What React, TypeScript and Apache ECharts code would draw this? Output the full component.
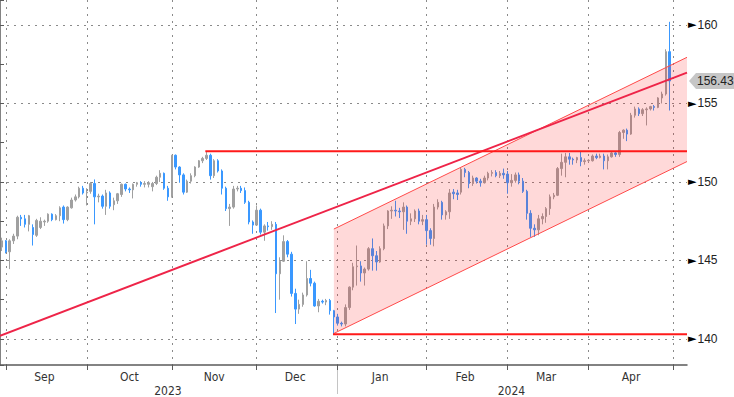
import React, { useEffect, useRef } from 'react';
import * as echarts from 'echarts';

// ---------- data ----------
const START = '2023-08-30';
const END = '2024-05-03';
const monthNames = ['Sep', 'Oct', 'Nov', 'Dec', 'Jan', 'Feb', 'Mar', 'Apr'];

// daily candles: [open, close, low, high]
const aug23 = [
  [145.85, 146.25, 145.6, 146.45], [146.25, 145.55, 145.45, 146.3],
];
const sep23 = [
  [145.55, 146.25, 144.45, 146.35], [146.25, 146.55, 146.05, 146.7], [146.55, 147.75, 146.35, 147.85],
  [147.75, 147.65, 147.2, 147.9], [147.65, 147.3, 147.1, 147.9], [147.3, 147.85, 146.85, 147.9],
  [147.1, 146.65, 145.95, 147.3], [146.6, 147.55, 146.5, 147.65], [147.1, 147.5, 147.0, 147.75],
  [147.45, 147.5, 147.2, 147.6], [147.5, 147.95, 147.4, 148.0], [147.95, 147.6, 147.5, 148.0],
  [147.6, 147.85, 147.55, 147.95], [147.85, 148.35, 147.5, 148.45], [148.4, 147.6, 147.35, 148.5],
  [147.6, 148.4, 147.5, 148.45], [148.35, 148.85, 148.3, 149.0], [148.85, 149.05, 148.75, 149.2],
  [149.05, 149.6, 148.95, 149.7], [149.6, 149.3, 149.2, 149.75], [149.3, 149.35, 148.5, 149.6],
];
const oct23 = [
  [149.4, 149.9, 149.25, 150.0], [149.9, 149.05, 147.3, 150.16], [149.05, 149.1, 148.7, 149.25],
  [149.1, 148.45, 148.3, 149.2], [148.45, 149.3, 147.9, 149.5], [149.3, 148.45, 148.3, 149.4],
  [148.55, 148.8, 148.2, 149.0], [148.8, 149.25, 148.6, 149.3], [149.2, 149.85, 149.05, 149.9],
  [149.85, 149.55, 149.4, 149.9], [149.55, 149.5, 149.3, 149.65], [149.5, 149.85, 148.95, 149.9],
  [149.85, 149.95, 149.7, 150.0], [149.95, 149.85, 149.7, 150.05], [149.85, 149.9, 149.65, 150.05],
  [149.85, 149.95, 149.65, 150.05], [149.7, 149.9, 149.4, 150.0], [149.9, 150.3, 149.8, 150.4],
  [150.3, 150.55, 150.0, 150.75], [150.55, 149.6, 149.5, 150.6], [149.6, 149.05, 148.8, 149.75],
  [149.1, 151.7, 149.0, 151.72],
];
const nov23 = [
  [151.7, 150.95, 150.8, 151.75], [150.95, 150.45, 149.95, 151.0], [150.45, 149.35, 149.2, 150.55],
  [149.35, 150.05, 149.3, 150.15], [150.05, 150.4, 149.9, 150.55], [150.4, 150.95, 150.3, 151.0],
  [150.95, 151.35, 150.9, 151.4], [151.35, 151.5, 151.2, 151.6], [151.5, 151.7, 151.4, 151.92],
  [151.7, 150.4, 150.15, 151.8], [150.4, 151.35, 150.25, 151.45], [151.35, 150.7, 150.6, 151.45],
  [150.7, 149.6, 149.2, 150.8], [149.6, 148.3, 148.15, 149.7], [148.3, 148.4, 147.2, 148.6],
  [148.4, 149.55, 148.3, 149.75], [149.55, 149.6, 149.4, 149.75], [149.6, 149.45, 149.3, 149.75],
  [149.45, 148.7, 148.6, 149.65], [148.7, 147.45, 147.3, 148.8], [147.45, 147.25, 146.7, 147.55],
  [147.25, 148.2, 147.2, 148.5],
];
const dec23 = [
  [148.2, 146.8, 146.65, 148.3], [146.8, 147.2, 146.25, 147.3], [147.2, 147.15, 146.9, 147.45],
  [147.15, 147.3, 146.95, 147.5], [147.3, 144.15, 141.65, 147.45], [144.15, 144.95, 142.5, 145.2],
  [144.95, 146.2, 144.9, 146.6], [146.2, 145.4, 145.2, 146.3], [145.4, 142.9, 142.7, 145.55],
  [142.9, 141.9, 140.95, 143.2], [141.9, 142.2, 141.6, 142.5], [142.2, 142.8, 142.05, 142.95],
  [142.8, 143.85, 142.7, 144.95], [143.85, 143.55, 143.35, 144.4], [143.55, 142.1, 142.05, 143.65],
  [142.1, 142.4, 141.7, 142.55], [142.4, 142.35, 142.25, 142.5], [142.35, 142.45, 142.15, 142.55],
  [142.45, 141.8, 141.55, 142.55], [141.8, 141.4, 140.25, 141.85], [141.4, 141.0, 140.85, 141.6],
];
const jan24 = [
  [141.0, 140.95, 140.8, 141.1], [140.95, 142.0, 140.8, 142.2], [142.0, 143.3, 141.85, 143.35],
  [143.3, 144.6, 143.1, 144.85], [144.6, 144.65, 143.4, 145.95], [144.65, 144.2, 143.65, 144.95],
  [144.2, 144.45, 143.4, 144.55], [144.45, 145.75, 144.35, 145.85], [145.75, 145.3, 144.35, 146.4],
  [145.3, 144.9, 144.35, 145.6], [144.9, 145.75, 144.85, 145.9], [145.75, 147.2, 145.65, 147.35],
  [147.2, 148.15, 147.0, 148.2], [148.15, 148.2, 147.65, 148.45], [148.2, 148.15, 147.8, 148.8],
  [148.15, 148.1, 147.7, 148.35], [148.1, 148.4, 146.95, 148.7], [148.4, 147.5, 146.7, 148.5],
  [147.5, 147.65, 147.25, 148.0], [147.65, 148.15, 147.45, 148.25], [148.15, 147.5, 147.3, 148.3],
  [147.5, 147.6, 147.25, 147.9], [147.6, 146.9, 146.0, 147.9],
];
const feb24 = [
  [146.9, 146.4, 146.0, 147.05], [146.4, 148.4, 145.9, 148.6], [148.4, 148.7, 148.25, 148.9],
  [148.7, 147.9, 147.6, 148.8], [147.9, 148.1, 147.6, 148.2], [148.1, 149.3, 147.65, 149.55],
  [149.35, 149.25, 148.9, 149.55], [149.3, 149.2, 148.85, 149.5], [149.35, 150.8, 149.2, 150.9],
  [150.8, 150.6, 150.3, 150.9], [150.6, 149.9, 149.6, 150.7], [149.9, 150.25, 149.75, 150.4],
  [150.25, 150.05, 149.9, 150.3], [150.05, 149.95, 149.7, 150.2], [149.95, 150.25, 149.9, 150.4],
  [150.25, 150.55, 150.1, 150.65], [150.55, 150.6, 150.35, 150.75], [150.6, 150.4, 150.3, 150.75],
  [150.4, 150.55, 150.25, 150.7], [150.55, 150.45, 150.2, 150.85], [150.5, 149.95, 149.25, 150.7],
];
const mar24 = [
  [149.95, 150.1, 149.7, 150.5], [150.1, 150.45, 149.95, 150.6], [150.45, 150.05, 149.85, 150.6],
  [150.05, 149.4, 149.3, 150.25], [149.4, 148.0, 147.6, 149.5], [148.0, 147.05, 146.5, 148.2],
  [147.05, 146.95, 146.5, 147.3], [146.95, 147.65, 146.6, 147.9], [147.65, 147.8, 147.3, 148.0],
  [147.8, 148.3, 147.4, 148.4], [148.3, 149.05, 147.9, 149.2], [149.05, 149.15, 148.9, 149.3],
  [149.15, 150.85, 149.1, 150.95], [150.85, 151.25, 150.4, 151.8], [151.25, 151.6, 150.3, 151.85],
  [151.6, 151.45, 151.1, 151.85], [151.45, 151.4, 151.1, 151.55], [151.4, 151.55, 151.2, 151.6],
  [151.55, 151.3, 151.0, 151.95], [151.3, 151.35, 151.1, 151.5], [151.35, 151.38, 151.25, 151.45],
];
const apr24 = [
  [151.35, 151.65, 151.3, 151.75], [151.65, 151.55, 151.45, 151.8], [151.55, 151.65, 151.5, 151.8],
  [151.65, 151.35, 150.8, 151.8], [151.35, 151.6, 150.8, 151.75], [151.6, 151.85, 151.55, 151.95],
  [151.85, 151.75, 151.6, 151.9], [151.75, 153.15, 151.6, 153.25], [153.15, 153.3, 152.75, 153.35],
  [153.3, 153.05, 152.6, 153.4], [153.05, 154.25, 153.0, 154.4], [154.25, 154.65, 154.1, 154.8],
  [154.65, 154.35, 154.2, 154.75], [154.35, 154.6, 154.2, 154.7], [154.6, 154.65, 153.6, 154.75],
  [154.65, 154.8, 154.55, 154.85], [154.8, 154.75, 154.55, 154.9], [154.75, 155.35, 154.7, 155.4],
  [155.35, 155.6, 155.0, 155.75], [155.6, 158.3, 155.5, 158.45], [158.3, 156.43, 154.55, 160.2],
];
const lastPrice = 156.43;

// drawn levels
const resistanceLevel = 151.95;
const resistanceFrom = '2023-11-13';
const supportLevel = 140.3;
const supportFrom = '2023-12-28';
const channelFrom = '2023-12-28';
const channelStart = [140.35, 147.0]; // [lower, upper]
const channelEnd = [151.3, 157.94];
const trendStartEnd = [140.2, 156.96];

const yMin = 138.34;
const yMax = 161.59;

// ---------- helpers ----------
function weekdays(a: string, b: string): string[] {
  const out: string[] = [];
  const d = new Date(a + 'T00:00:00Z');
  const e = new Date(b + 'T00:00:00Z');
  while (d <= e) {
    const w = d.getUTCDay();
    if (w !== 0 && w !== 6) out.push(d.toISOString().slice(0, 10));
    d.setUTCDate(d.getUTCDate() + 1);
  }
  return out;
}

const dates = weekdays(START, END);
const N = dates.length;
const candles = [...aug23, ...sep23, ...oct23, ...nov23, ...dec23, ...jan24, ...feb24, ...mar24, ...apr24];

const monthEnds: number[] = [];
for (let i = 0; i < N - 1; i++) {
  if (dates[i].slice(5, 7) !== dates[i + 1].slice(5, 7)) monthEnds.push(i);
}
const monthEndSet = new Set(monthEnds);
const monthLabelMap: Record<number, string> = {};
for (let k = 0; k < monthEnds.length - 1 && k < monthNames.length; k++) {
  monthLabelMap[Math.floor((monthEnds[k] + monthEnds[k + 1]) / 2)] = monthNames[k];
}
let yearSep = 0;
for (let i = 0; i < N - 1; i++) {
  if (dates[i].slice(0, 4) !== dates[i + 1].slice(0, 4)) yearSep = i;
}
const yearLabelMap: Record<number, string> = {};
yearLabelMap[Math.floor((0 + yearSep + 0.5) / 2)] = dates[0].slice(0, 4);
yearLabelMap[Math.floor((yearSep + 0.5 + N) / 2)] = dates[N - 1].slice(0, 4);

const pos = (d: string) => dates.indexOf(d) + 0.5;

const FONT_X = "'Liberation Sans Narrow', 'DejaVu Sans Condensed', 'Liberation Sans', sans-serif";
const FONT_Y = "'Liberation Sans', 'DejaVu Sans', sans-serif";

export default function App() {
  const ref = useRef<HTMLDivElement>(null);
  useEffect(() => {
    if (!ref.current) return;
    const chart = echarts.init(ref.current, undefined, { renderer: 'svg' });
    const cx = pos(channelFrom);
    const channelPoly = [
      [cx, channelStart[0]], [N, channelEnd[0]], [N, channelEnd[1]], [cx, channelStart[1]],
    ];
    const lineSeries = (data: number[][], color: string, width: number, z: number) => ({
      type: 'line', xAxisIndex: 2, yAxisIndex: 0, data, symbol: 'none', silent: true, z,
      lineStyle: { color, width }, clip: true,
    });
    const option: any = {
      animation: false,
      backgroundColor: '#ffffff',
      grid: { left: 0, right: 47, top: 0, bottom: 32, containLabel: false, outerBoundsMode: 'none' },
      xAxis: [
        {
          type: 'category', data: dates, boundaryGap: true, position: 'bottom',
          axisLine: { show: true, lineStyle: { color: '#5a5a5a', width: 1.5 } },
          axisTick: { show: true, alignWithLabel: true, interval: (i: number) => monthEndSet.has(i), length: 5, lineStyle: { color: '#5a5a5a' } },
          axisLabel: {
            interval: (i: number) => monthLabelMap[i] !== undefined,
            formatter: (_v: string, i: number) => monthLabelMap[i] || '',
            margin: 6, color: '#333', fontSize: 12, fontFamily: FONT_X,
          },
          splitLine: { show: true, alignWithLabel: true, interval: (i: number) => monthEndSet.has(i), lineStyle: { color: '#8a8a8a', type: [2, 5], width: 1 } },
        },
        {
          type: 'category', data: dates, boundaryGap: true, position: 'bottom', offset: 5,
          axisLine: { show: false },
          axisTick: { show: true, alignWithLabel: true, interval: (i: number) => i === yearSep, length: 24, lineStyle: { color: '#c4c4c4' } },
          axisLabel: {
            interval: (i: number) => yearLabelMap[i] !== undefined,
            formatter: (_v: string, i: number) => yearLabelMap[i] || '',
            margin: 15, color: '#333', fontSize: 12, fontFamily: FONT_X,
          },
          splitLine: { show: false },
        },
        { type: 'value', min: 0, max: N, show: false },
      ],
      yAxis: [
        {
          type: 'value', position: 'right', min: yMin, max: yMax, minInterval: 2.5, maxInterval: 2.5,
          axisLine: { show: true, lineStyle: { color: '#5a5a5a', width: 1.5 } },
          axisTick: { show: true, length: 4, lineStyle: { color: '#5a5a5a' } },
          axisLabel: {
            margin: 1,
            formatter: (v: number) => {
              const r = Math.round(v);
              if (Math.abs(v - r) < 1e-6 && r % 5 === 0) return `{t|►}{n|${r}}`;
              return '';
            },
            rich: {
              t: { fontSize: 11, color: '#000', fontFamily: 'DejaVu Sans', padding: [0, 1, 0, 0] },
              n: { fontSize: 12, color: '#222', fontFamily: FONT_Y },
            },
          },
          splitLine: { show: true, lineStyle: { color: ['rgba(0,0,0,0)', '#8a8a8a'], type: [2, 5], width: 1 } },
        },
      ],
      series: [
        {
          type: 'candlestick', xAxisIndex: 0, yAxisIndex: 0, data: candles, barWidth: 2, z: 2, silent: true,
          itemStyle: { color: '#a0a0a0', borderColor: '#a0a0a0', color0: '#3a98ff', borderColor0: '#3a98ff', borderWidth: 1 },
        },
        {
          type: 'custom', xAxisIndex: 2, yAxisIndex: 0, z: 3, silent: true, data: [[N / 2, 150]],
          renderItem: (_p: any, api: any) => ({
            type: 'polygon',
            shape: { points: channelPoly.map((p) => api.coord(p)) },
            style: { fill: 'rgba(255,20,20,0.16)', stroke: 'none' },
          }),
        },
        lineSeries([[cx, channelStart[1]], [N, channelEnd[1]]], '#ff4a4a', 1, 4),
        lineSeries([[cx, channelStart[0]], [N, channelEnd[0]]], '#ff4a4a', 1, 4),
        lineSeries([[0, trendStartEnd[0]], [N, trendStartEnd[1]]], '#ee2448', 2, 5),
        lineSeries([[pos(resistanceFrom) - 0.3, resistanceLevel], [N, resistanceLevel]], '#ff1a1a', 2, 5),
        lineSeries([[cx - 0.2, supportLevel], [N, supportLevel]], '#ff1a1a', 2, 5),
      ],
    };
    chart.setOption(option);
    const y = chart.convertToPixel({ yAxisIndex: 0 }, lastPrice) as number;
    const x0 = chart.convertToPixel({ xAxisIndex: 2 }, N) as number;
    chart.setOption({
      graphic: [
        {
          type: 'polygon', z: 100, silent: true,
          shape: { points: [[x0 + 2, y], [x0 + 9, y - 8], [734, y - 8], [734, y + 8], [x0 + 9, y + 8]] },
          style: { fill: '#c6c6c6' },
        },
        {
          type: 'text', z: 101, silent: true, x: x0 + 10, y,
          style: { text: lastPrice.toFixed(2), fill: '#222', font: `12px ${FONT_Y}`, verticalAlign: 'middle', align: 'left' },
        },
      ],
    });
    return () => chart.dispose();
  }, []);
  return <div ref={ref} style={{ position: 'fixed', left: 0, top: 0, width: 734, height: 397, background: '#fff' }} />;
}
